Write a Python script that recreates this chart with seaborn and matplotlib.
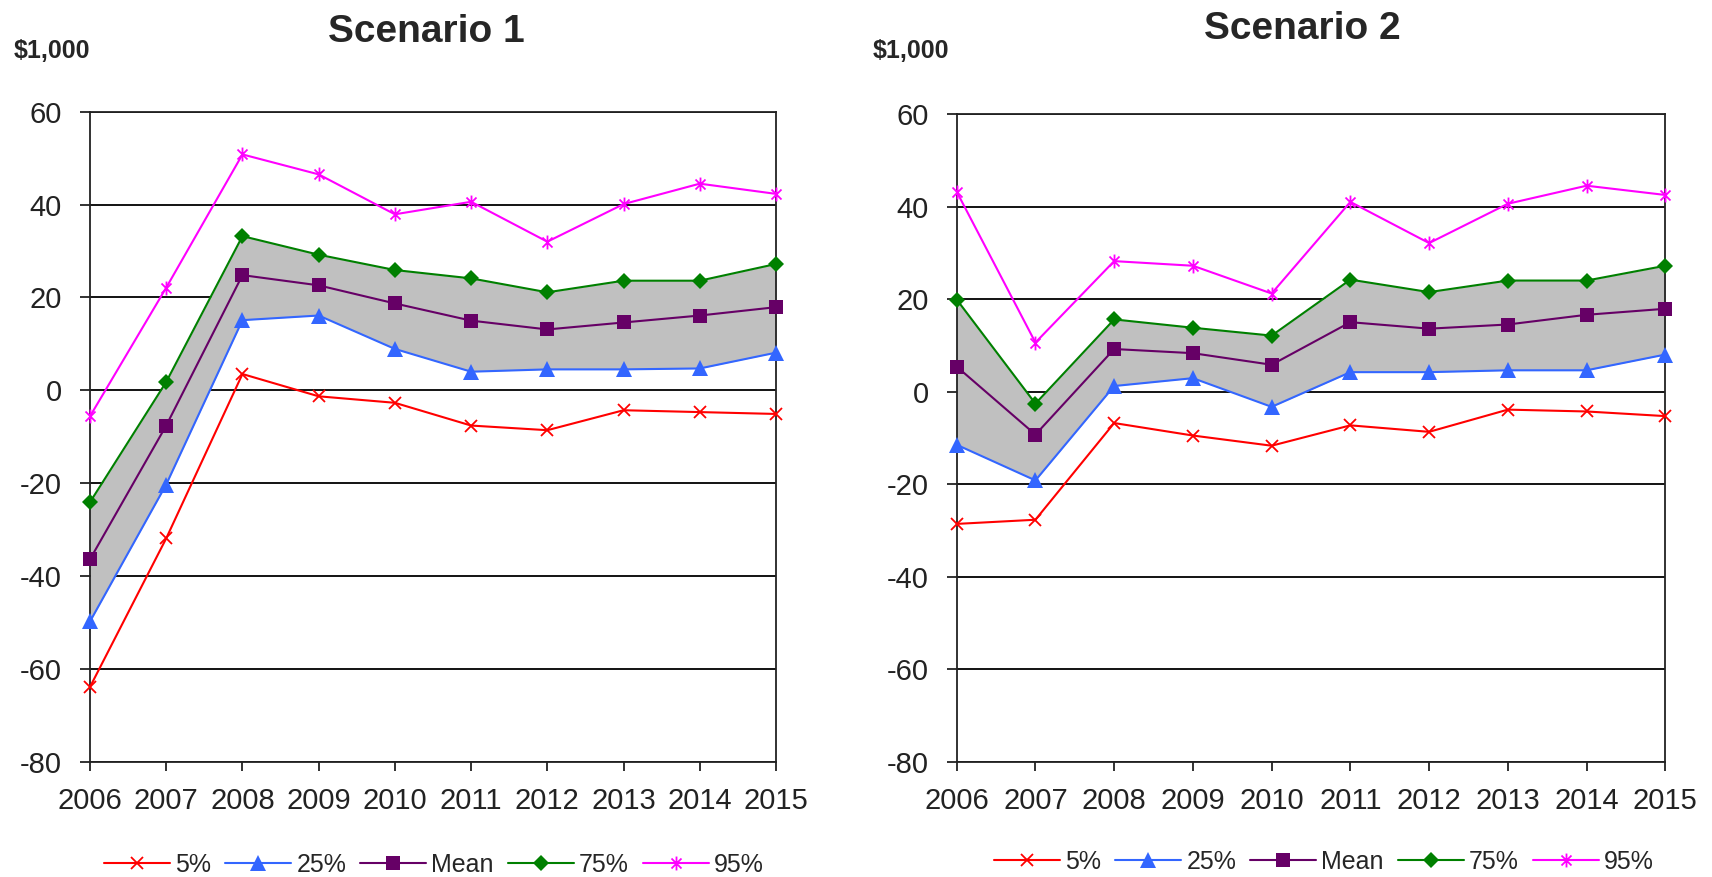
import matplotlib
matplotlib.use("Agg")
import matplotlib.pyplot as plt
from matplotlib.path import Path
from matplotlib.lines import Line2D
import seaborn as sns
import numpy as np

years = [2006, 2007, 2008, 2009, 2010, 2011, 2012, 2013, 2014, 2015]
series_names = ["5%", "25%", "Mean", "75%", "95%"]

s1_p5 = [-63.9, -31.9, 3.5, -1.3, -2.7, -7.6, -8.6, -4.3, -4.7, -5.1]
s1_p25 = [-49.8, -20.3, 15.1, 16.1, 8.9, 4.0, 4.5, 4.5, 4.7, 8.1]
s1_mean = [-36.4, -7.6, 24.8, 22.6, 18.7, 15.0, 13.1, 14.6, 16.1, 17.9]
s1_p75 = [-24.1, 1.8, 33.2, 29.2, 25.9, 24.1, 21.1, 23.6, 23.6, 27.2]
s1_p95 = [-5.6, 22.1, 50.8, 46.5, 37.9, 40.6, 32.0, 40.1, 44.5, 42.3]

s2_p5 = [-28.6, -27.7, -6.8, -9.5, -11.7, -7.3, -8.7, -3.9, -4.3, -5.3]
s2_p25 = [-11.5, -19.2, 1.2, 2.9, -3.3, 4.2, 4.2, 4.6, 4.6, 8.0]
s2_mean = [5.4, -9.3, 9.2, 8.3, 5.8, 15.0, 13.6, 14.5, 16.6, 17.9]
s2_p75 = [19.9, -2.6, 15.6, 13.8, 12.1, 24.2, 21.5, 24.0, 24.0, 27.2]
s2_p95 = [43.2, 10.6, 28.2, 27.2, 21.2, 41.0, 32.1, 40.6, 44.5, 42.5]

titles = ["Scenario 1", "Scenario 2"]
unit_label = "$1,000"
yticks = [-80, -60, -40, -20, 0, 20, 40, 60]

sns.set_style("white")
plt.rcParams['font.family'] = ['Liberation Sans', 'DejaVu Sans']
plt.rcParams['axes.unicode_minus'] = False

asterisk = Path([(0, -1), (0, 1), (-0.72, -0.72), (0.72, 0.72), (-0.72, 0.72), (0.72, -0.72)],
                [Path.MOVETO, Path.LINETO, Path.MOVETO, Path.LINETO, Path.MOVETO, Path.LINETO])

styles = {
    "5%": dict(color="#FF0000", marker="x", ms=9, mew=1.3),
    "25%": dict(color="#3366FF", marker="^", ms=11, mew=0),
    "Mean": dict(color="#660066", marker="s", ms=10, mew=0),
    "75%": dict(color="#008000", marker="D", ms=8, mew=0),
    "95%": dict(color="#FF00FF", marker=asterisk, ms=10, mew=1.3),
}

fig = plt.figure(figsize=(17.12, 8.77), dpi=100)
ax1 = fig.add_axes([90/1712, 1-761.7/877, 686/1712, 650/877])
ax2 = fig.add_axes([956.7/1712, 1-761.7/877, 708.6/1712, 647.7/877])

datasets = [
    [s1_p5, s1_p25, s1_mean, s1_p75, s1_p95],
    [s2_p5, s2_p25, s2_mean, s2_p75, s2_p95],
]

for ax, data in zip([ax1, ax2], datasets):
    ax.fill_between(years, data[1], data[3], color="#C0C0C0", zorder=1.5, lw=0)
    for name, vals in zip(series_names, data):
        st = styles[name]
        sns.lineplot(x=years, y=vals, ax=ax, color=st["color"], marker=st["marker"],
                     markersize=st["ms"], markeredgewidth=st["mew"],
                     markeredgecolor=st["color"], lw=1.5, clip_on=False, zorder=3,
                     legend=False)
    ax.set_xlim(2006, 2015)
    ax.set_ylim(-80, 60)
    ax.set_yticks(yticks)
    ax.set_yticklabels([str(v) for v in yticks])
    ax.set_xticks(years)
    ax.set_xticklabels([str(y) for y in years],
                       family=['Liberation Sans Narrow', 'Liberation Sans'], fontsize=21)
    ax.tick_params(axis='y', labelsize=21, length=7.2, width=1.3, direction='out',
                   pad=13, colors='#222222', left=True)
    ax.tick_params(axis='x', length=6.5, width=1.3, direction='out', pad=11.5,
                   colors='#222222', bottom=True)
    ax.grid(axis='y', color='black', lw=1.3)
    ax.grid(axis='x', visible=False)
    ax.set_axisbelow(True)
    for sp in ax.spines.values():
        sp.set_color('#222222')
        sp.set_linewidth(1.3)
    ax.set_xlabel("")
    ax.set_ylabel("")

# titles and unit labels
fig.text(426/1712, 1-42/877, titles[0], ha='center', va='baseline', fontsize=28, fontweight='bold')
fig.text(1302/1712, 1-39/877, titles[1], ha='center', va='baseline', fontsize=28, fontweight='bold')
fig.text(13.6/1712, 1-58/877, unit_label, ha='left', va='baseline', fontsize=18, fontweight='bold',
         family=['Liberation Sans Narrow', 'Liberation Sans'])
fig.text(873/1712, 1-58/877, unit_label, ha='left', va='baseline', fontsize=18, fontweight='bold',
         family=['Liberation Sans Narrow', 'Liberation Sans'])

handles = []
for name in series_names:
    st = styles[name]
    handles.append(Line2D([0], [0], color=st["color"], marker=st["marker"], markersize=st["ms"],
                          markeredgewidth=st["mew"], markeredgecolor=st["color"], lw=1.5))

for cx, cy in [(434/1712, (877-865)/877), (1324/1712, (877-861.7)/877)]:
    fig.legend(handles, series_names, loc='center', bbox_to_anchor=(cx, cy), ncol=5,
               frameon=False, fontsize=18, handlelength=2.64, handletextpad=0.2,
               columnspacing=0.56, borderpad=0, borderaxespad=0)

fig.savefig("out.png", dpi=100)
